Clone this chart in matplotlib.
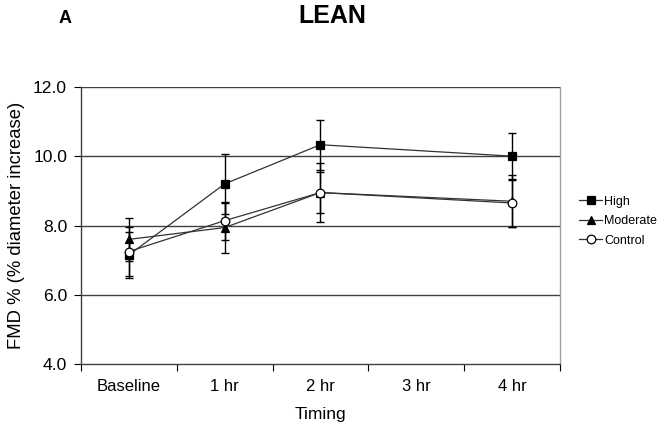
import numpy as np
import matplotlib.pyplot as plt

plt.rcParams['font.family'] = ['Liberation Sans', 'DejaVu Sans']

timing = ['Baseline', '1 hr', '2 hr', '3 hr', '4 hr']
x_high = [0, 1, 2, 4]
high = [7.15, 9.2, 10.33, 10.0]
high_err = [0.65, 0.87, 0.72, 0.68]
moderate = [7.6, 7.94, 8.95, 8.7]
moderate_err = [0.62, 0.72, 0.85, 0.75]
control = [7.25, 8.14, 8.95, 8.65]
control_err = [0.7, 0.55, 0.6, 0.7]

fig = plt.figure(figsize=(6.64, 4.32), dpi=100)
ax = fig.add_axes([0.122, 0.157, 0.721, 0.642])

for yv in [6, 8, 10, 12]:
    ax.axhline(yv, color='#404040', lw=1.0, zorder=1)

series = [
    ('High', high, high_err, 's', 'black'),
    ('Moderate', moderate, moderate_err, '^', 'black'),
    ('Control', control, control_err, 'o', 'white'),
]
for name, vals, err, mk, fc in series:
    ax.errorbar(x_high, vals, yerr=err, fmt='none', ecolor='black',
                elinewidth=1.0, capsize=3, capthick=1.0, zorder=2)
    ax.plot(x_high, vals, color='#333333', lw=0.9, marker=mk, markersize=6.2,
            markerfacecolor=fc, markeredgecolor='black', markeredgewidth=0.9,
            label=name, zorder=3)

ax.set_xlim(-0.5, 4.5)
ax.set_ylim(4, 12)
ax.set_yticks([4, 6, 8, 10, 12])
ax.set_yticklabels(['4.0', '6.0', '8.0', '10.0', '12.0'], fontsize=12.6)
ax.set_xticks(range(5))
ax.set_xticklabels(timing, fontsize=12)
ax.set_xticks(np.arange(-0.5, 5.0, 1.0), minor=True)
ax.tick_params(axis='x', which='major', length=0, pad=11)
ax.tick_params(axis='x', which='minor', length=5, direction='out', width=0.8)
ax.tick_params(axis='y', length=5, direction='out', width=0.8, pad=5)

for s in ['left', 'bottom']:
    ax.spines[s].set_color('#404040')
    ax.spines[s].set_linewidth(1.0)
ax.spines['top'].set_visible(False)
ax.spines['right'].set_color('#a0a0a0')
ax.spines['right'].set_linewidth(1.0)

ax.set_xlabel('Timing', fontsize=12.5, labelpad=9)
ax.set_ylabel('FMD % (% diameter increase)', fontsize=13.3, labelpad=6)

leg = fig.legend(loc='center left', bbox_to_anchor=(0.872, 0.488), frameon=False,
                 fontsize=9, handlelength=1.85, handletextpad=0.15,
                 labelspacing=0.6, borderpad=0, borderaxespad=0)

fig.text(0.5, 0.964, 'LEAN', ha='center', va='center', fontsize=18, fontweight='bold')
fig.text(0.098, 0.958, 'A', ha='center', va='center', fontsize=13, fontweight='bold')

fig.savefig('out.png', dpi=100)
